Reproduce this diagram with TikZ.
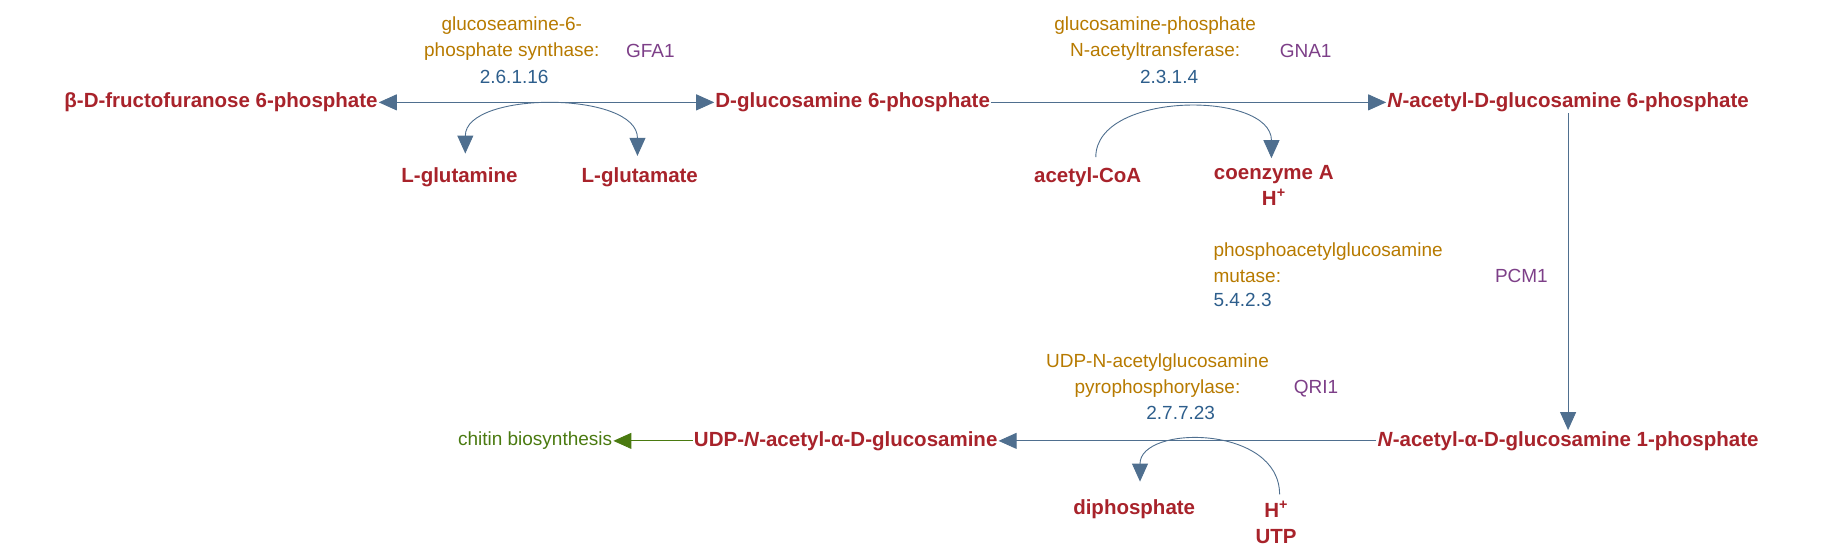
\documentclass[tikz,border=0pt]{standalone}
\usepackage{fontspec}
\setmainfont{Liberation Sans}
\usetikzlibrary{arrows.meta}
\definecolor{cred}{HTML}{A8232B}
\definecolor{corg}{HTML}{B77A00}
\definecolor{cpur}{HTML}{7D3F88}
\definecolor{cblu}{HTML}{2D5E8C}
\definecolor{carr}{HTML}{4F6F8F}
\definecolor{cgrn}{HTML}{4A7A10}
\begin{document}
\begin{tikzpicture}[x=1.1633pt,y=-1.1633pt,
  met/.style={text=cred,font=\fontsize{20.5}{26}\selectfont\bfseries,inner sep=1pt,align=center},
  enz/.style={text=corg,font=\fontsize{19}{25.6}\selectfont,inner sep=0pt},
  gene/.style={text=cpur,font=\fontsize{19}{22}\selectfont,inner sep=0pt},
  ec/.style={text=cblu,font=\fontsize{19}{22}\selectfont,inner sep=0pt},
  tip/.style={-{Triangle[length=18pt,width=16pt]}},
  dtip/.style={{Triangle[length=18pt,width=16pt]}-{Triangle[length=18pt,width=16pt]}},
  rx/.style={draw=carr,line width=0.9pt,tip,carr}]
\useasboundingbox (0,0) rectangle (1568,478);
\node[met] (f6p) at (190,88) {β-D-fructofuranose 6-phosphate};
\node[met] (g6p) at (733,88) {D-glucosamine 6-phosphate};
\node[met] (ag6p) at (1348,88) {\textit{N}-acetyl-D-glucosamine 6-phosphate};
\node[met] (ag1p) at (1348,379) {\textit{N}-acetyl-α-D-glucosamine 1-phosphate};
\node[met] (udp) at (727,379) {UDP-\textit{N}-acetyl-α-D-glucosamine};
\node[text=cgrn,font=\fontsize{19}{22}\selectfont,inner sep=1pt] (chit) at (460,379) {chitin biosynthesis};
\node[met] (gln) at (395,152) {L-glutamine};
\node[met] (glu) at (550,152) {L-glutamate};
\node[met] (acoa) at (935,152) {acetyl-CoA};
\node[met] (coa) at (1095,159) {coenzyme A\\H\textsuperscript{+}};
\node[met] (dip) at (975,438) {diphosphate};
\node[met] (utp) at (1097,449) {H\textsuperscript{+}\\UTP};

\draw[rx,dtip] (f6p.east) -- (g6p.west);
\draw[rx] (g6p.east) -- (ag6p.west);
\draw[rx] (ag6p.south) -- (ag1p.north);
\draw[rx] (ag1p.west) -- (udp.east);
\draw[draw=cgrn,fill=cgrn,line width=0.9pt,tip] (udp.west) -- (chit.east);

\coordinate (c1) at (400,132); \coordinate (c2) at (548,134);
\draw[rx,dtip] (c1) .. controls (400,78) and (548,78) .. (c2);
\coordinate (c3) at (942,135); \coordinate (c4) at (1093,136);
\draw[rx] (c3) .. controls (942,78) and (1093,78) .. (c4);
\coordinate (c5) at (1100,425); \coordinate (c6) at (980,414);
\draw[rx] (c5) .. controls (1100,365) and (980,365) .. (c6);

\node[enz,align=center] (e1) at (440,33) {glucoseamine-6-\\phosphate synthase:};
\node[gene,anchor=west] (g1) at (538,44) {GFA1};
\node[ec] (n1) at (442,66) {2.6.1.16};
\node[enz,align=center] (e2) at (993,33) {glucosamine-phosphate\\N-acetyltransferase:};
\node[gene,anchor=west] (g2) at (1100,44) {GNA1};
\node[ec] (n2) at (1005,66) {2.3.1.4};
\node[enz,align=left,anchor=west] (e3) at (1043,226) {phosphoacetylglucosamine\\mutase:};
\node[gene,anchor=west] (g3) at (1285,237) {PCM1};
\node[ec,anchor=west] (n3) at (1043,258) {5.4.2.3};
\node[enz,align=center] (e4) at (995,323) {UDP-N-acetylglucosamine\\pyrophosphorylase:};
\node[gene,anchor=west] (g4) at (1112,334) {QRI1};
\node[ec] (n4) at (1015,355) {2.7.7.23};
\end{tikzpicture}
\end{document}
